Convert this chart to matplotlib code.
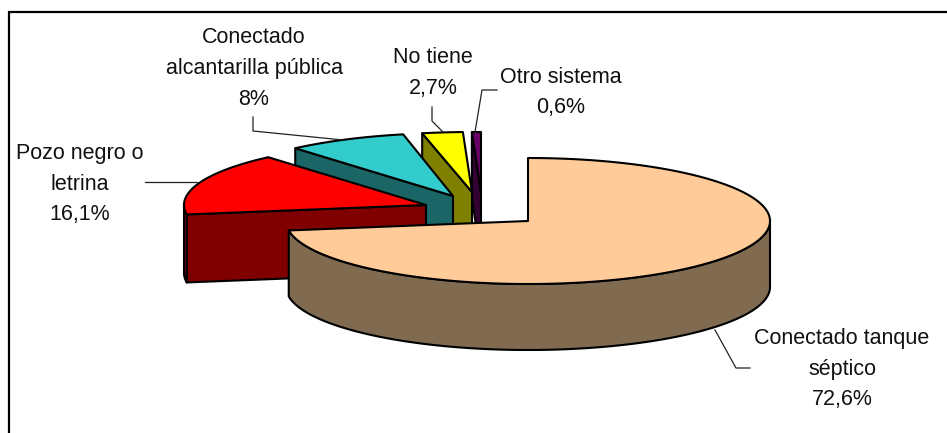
import numpy as np
import matplotlib
matplotlib.use('Agg')
import matplotlib.pyplot as plt
from matplotlib.patches import Polygon

plt.rcParams['font.family'] = ['Liberation Sans', 'DejaVu Sans']

# Datos del grafico
etiquetas = ['Conectado tanque\nséptico\n72,6%', 'Pozo negro o\nletrina\n16,1%',
             'Conectado\nalcantarilla pública\n8%', 'No tiene\n2,7%', 'Otro sistema\n0,6%']
valores = [72.6, 16.1, 8.0, 2.7, 0.6]

# Colores: cara superior y lateral
sup = ['#FFCC99', '#FF0000', '#33CCCC', '#FFFF00', '#660066']
lat = ['#806A50', '#800000', '#1A6666', '#808000', '#330033']

# Centro de cada porcion (explotadas) y radios de la elipse en pixeles
centros = [(528, 221), (426, 205), (453, 196), (472, 192), (481, 192)]
rx = 242
ry = [63, 63, 63, 60, 60]
prof = [66, 68, 66, 66, 66]

# Posicion de los textos
pos_txt = [(842, 369), (80, 184), (254, 68.5), (433, 73), (561, 92.5)]

# Lineas guia
guias = [[(715, 330), (736, 368), (750, 368)],
         [(145, 182), (197, 182)],
         [(253, 117), (253, 131), (343, 140)],
         [(432, 107), (432, 121), (443, 132)],
         [(497, 90), (482, 90), (475, 132)]]


def arco(c, ry_i, a1, a2):
    # angulo medido desde las 12 en sentido horario
    t = np.radians(np.linspace(a1, a2, max(int(a2 - a1) * 2, 2)))
    return np.column_stack([c[0] + rx * np.sin(t), c[1] - ry_i * np.cos(t)])


fig = plt.figure(figsize=(9.47, 4.33), dpi=100)
ax = fig.add_axes([0, 0, 1, 1])
ax.set_xlim(0, 947)
ax.set_ylim(433, 0)
ax.axis('off')

# marco: solo izquierda y arriba
ax.plot([9, 9, 947], [433, 12, 12], color='k', lw=1.6, solid_joinstyle='miter')

# angulos acumulados
fin = np.cumsum(valores) / np.sum(valores) * 360
ini = np.concatenate([[0], fin[:-1]])

# de atras hacia adelante
for i in range(len(valores) - 1, -1, -1):
    c = centros[i]
    a1, a2 = ini[i], fin[i]
    borde = arco(c, ry[i], a1, a2)

    # cara radial de inicio (solo en las porciones del lado izquierdo)
    if a1 > 180:
        p = borde[0]
        cara = [c, p, (p[0], p[1] + prof[i]), (c[0], c[1] + prof[i])]
        ax.add_patch(Polygon(cara, fc=lat[i], ec='k', lw=1.5, joinstyle='round'))

    # pared exterior, parte frontal del arco
    b1, b2 = max(a1, 90), min(a2, 270)
    if b2 > b1:
        pared = arco(c, ry[i], b1, b2)
        abajo = pared[::-1] + [0, prof[i]]
        ax.add_patch(Polygon(np.vstack([pared, abajo]), fc=lat[i], ec='k', lw=1.5, joinstyle='round'))

    # cara superior
    ax.add_patch(Polygon(np.vstack([[c], borde]), fc=sup[i], ec='k', lw=1.5, joinstyle='round'))

for g in guias:
    x, y = zip(*g)
    ax.plot(x, y, color='#222222', lw=0.9)

for t, (x, y) in zip(etiquetas, pos_txt):
    ax.text(x, y, t, ha='center', va='center', fontsize=15.5, color='#111111', linespacing=1.6)

fig.savefig('out.png', dpi=100)
